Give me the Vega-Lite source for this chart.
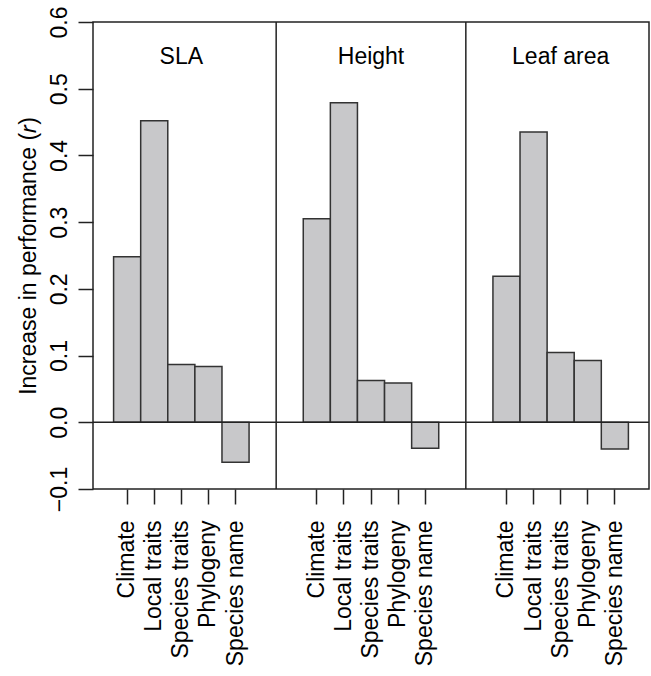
{
  "$schema": "https://vega.github.io/schema/vega-lite/v6.json",
  "width": 556,
  "height": 467,
  "autosize": {"type": "none"},
  "padding": {"left": 93, "top": 22, "right": 2, "bottom": 187},
  "background": "white",
  "config": {
    "view": {"stroke": "#222", "strokeWidth": 1.5},
    "font": "Liberation Sans",
    "axis": {
      "labelFont": "Liberation Sans",
      "titleFont": "Liberation Sans",
      "labelFontSize": 23,
      "titleFontSize": 23,
      "labelColor": "#000",
      "titleColor": "#000",
      "titleFontWeight": "normal",
      "tickColor": "#222",
      "tickWidth": 1.5,
      "tickSize": 15,
      "grid": false,
      "domain": false,
      "labelOverlap": false,
      "labelFlush": false
    }
  },
  "datasets": {
    "bars": [
      {"panel": "SLA", "variable": "Climate", "key": "SLA|Climate", "value": 0.248},
      {"panel": "SLA", "variable": "Local traits", "key": "SLA|Local traits", "value": 0.452},
      {"panel": "SLA", "variable": "Species traits", "key": "SLA|Species traits", "value": 0.0865},
      {"panel": "SLA", "variable": "Phylogeny", "key": "SLA|Phylogeny", "value": 0.0835},
      {"panel": "SLA", "variable": "Species name", "key": "SLA|Species name", "value": -0.060},
      {"panel": "Height", "variable": "Climate", "key": "Height|Climate", "value": 0.305},
      {"panel": "Height", "variable": "Local traits", "key": "Height|Local traits", "value": 0.479},
      {"panel": "Height", "variable": "Species traits", "key": "Height|Species traits", "value": 0.0625},
      {"panel": "Height", "variable": "Phylogeny", "key": "Height|Phylogeny", "value": 0.059},
      {"panel": "Height", "variable": "Species name", "key": "Height|Species name", "value": -0.039},
      {"panel": "Leaf area", "variable": "Climate", "key": "Leaf area|Climate", "value": 0.219},
      {"panel": "Leaf area", "variable": "Local traits", "key": "Leaf area|Local traits", "value": 0.435},
      {"panel": "Leaf area", "variable": "Species traits", "key": "Leaf area|Species traits", "value": 0.1045},
      {"panel": "Leaf area", "variable": "Phylogeny", "key": "Leaf area|Phylogeny", "value": 0.0925},
      {"panel": "Leaf area", "variable": "Species name", "key": "Leaf area|Species name", "value": -0.040}
    ],
    "dividers": [
      {"key": "gap1b"},
      {"key": "gap2b"}
    ]
  },
  "layer": [
    {
      "data": {"name": "bars"},
      "mark": {"type": "bar", "fill": "#c8c8ca", "stroke": "#333", "strokeWidth": 1.5},
      "encoding": {
        "x": {
          "field": "key",
          "type": "nominal",
          "sort": null,
          "scale": {
            "domain": ["SLA|Climate", "SLA|Local traits", "SLA|Species traits", "SLA|Phylogeny", "SLA|Species name", "gap1a", "gap1b",
                       "Height|Climate", "Height|Local traits", "Height|Species traits", "Height|Phylogeny", "Height|Species name", "gap2a", "gap2b",
                       "Leaf area|Climate", "Leaf area|Local traits", "Leaf area|Species traits", "Leaf area|Phylogeny", "Leaf area|Species name"],
            "paddingInner": 0,
            "paddingOuter": 0.76
          },
          "axis": {
            "values": ["SLA|Climate", "SLA|Local traits", "SLA|Species traits", "SLA|Phylogeny", "SLA|Species name",
                       "Height|Climate", "Height|Local traits", "Height|Species traits", "Height|Phylogeny", "Height|Species name",
                       "Leaf area|Climate", "Leaf area|Local traits", "Leaf area|Species traits", "Leaf area|Phylogeny", "Leaf area|Species name"],
            "labelExpr": "split(datum.value, '|')[1]",
            "labelAngle": -90,
            "labelAlign": "right",
            "labelBaseline": "middle",
            "labelPadding": 16,
            "title": null
          }
        },
        "y": {
          "field": "value",
          "type": "quantitative",
          "scale": {"domain": [-0.1, 0.6], "nice": false, "zero": false},
          "axis": {
            "values": [-0.1, 0, 0.1, 0.2, 0.3, 0.4, 0.5, 0.6],
            "format": ".1f",
            "labelAngle": -90,
            "labelAlign": "center",
            "labelBaseline": "alphabetic",
            "labelPadding": 12,
            "title": "Increase in performance (𝑟)",
            "titlePadding": 8
          }
        },
        "y2": {"datum": 0}
      }
    },
    {
      "data": {"name": "dividers"},
      "mark": {"type": "rule", "stroke": "#222", "strokeWidth": 1.5},
      "encoding": {
        "x": {
          "field": "key",
          "type": "nominal",
          "bandPosition": 0,
          "sort": null,
          "scale": {
            "domain": ["SLA|Climate", "SLA|Local traits", "SLA|Species traits", "SLA|Phylogeny", "SLA|Species name", "gap1a", "gap1b",
                       "Height|Climate", "Height|Local traits", "Height|Species traits", "Height|Phylogeny", "Height|Species name", "gap2a", "gap2b",
                       "Leaf area|Climate", "Leaf area|Local traits", "Leaf area|Species traits", "Leaf area|Phylogeny", "Leaf area|Species name"],
            "paddingInner": 0,
            "paddingOuter": 0.76
          }
        }
      }
    },
    {
      "data": {"values": [{"zero": 0}]},
      "mark": {"type": "rule", "stroke": "#222", "strokeWidth": 1.5},
      "encoding": {
        "y": {"field": "zero", "type": "quantitative"}
      }
    },
    {
      "data": {"name": "bars"},
      "transform": [{"filter": "datum.variable == 'Species traits'"}],
      "mark": {"type": "text", "fontSize": 23, "font": "Liberation Sans", "color": "#000", "baseline": "middle", "align": "center"},
      "encoding": {
        "x": {
          "field": "key",
          "type": "nominal",
          "sort": null,
          "scale": {
            "domain": ["SLA|Climate", "SLA|Local traits", "SLA|Species traits", "SLA|Phylogeny", "SLA|Species name", "gap1a", "gap1b",
                       "Height|Climate", "Height|Local traits", "Height|Species traits", "Height|Phylogeny", "Height|Species name", "gap2a", "gap2b",
                       "Leaf area|Climate", "Leaf area|Local traits", "Leaf area|Species traits", "Leaf area|Phylogeny", "Leaf area|Species name"],
            "paddingInner": 0,
            "paddingOuter": 0.76
          }
        },
        "y": {"datum": 0.548, "type": "quantitative"},
        "text": {"field": "panel"}
      }
    }
  ]
}
